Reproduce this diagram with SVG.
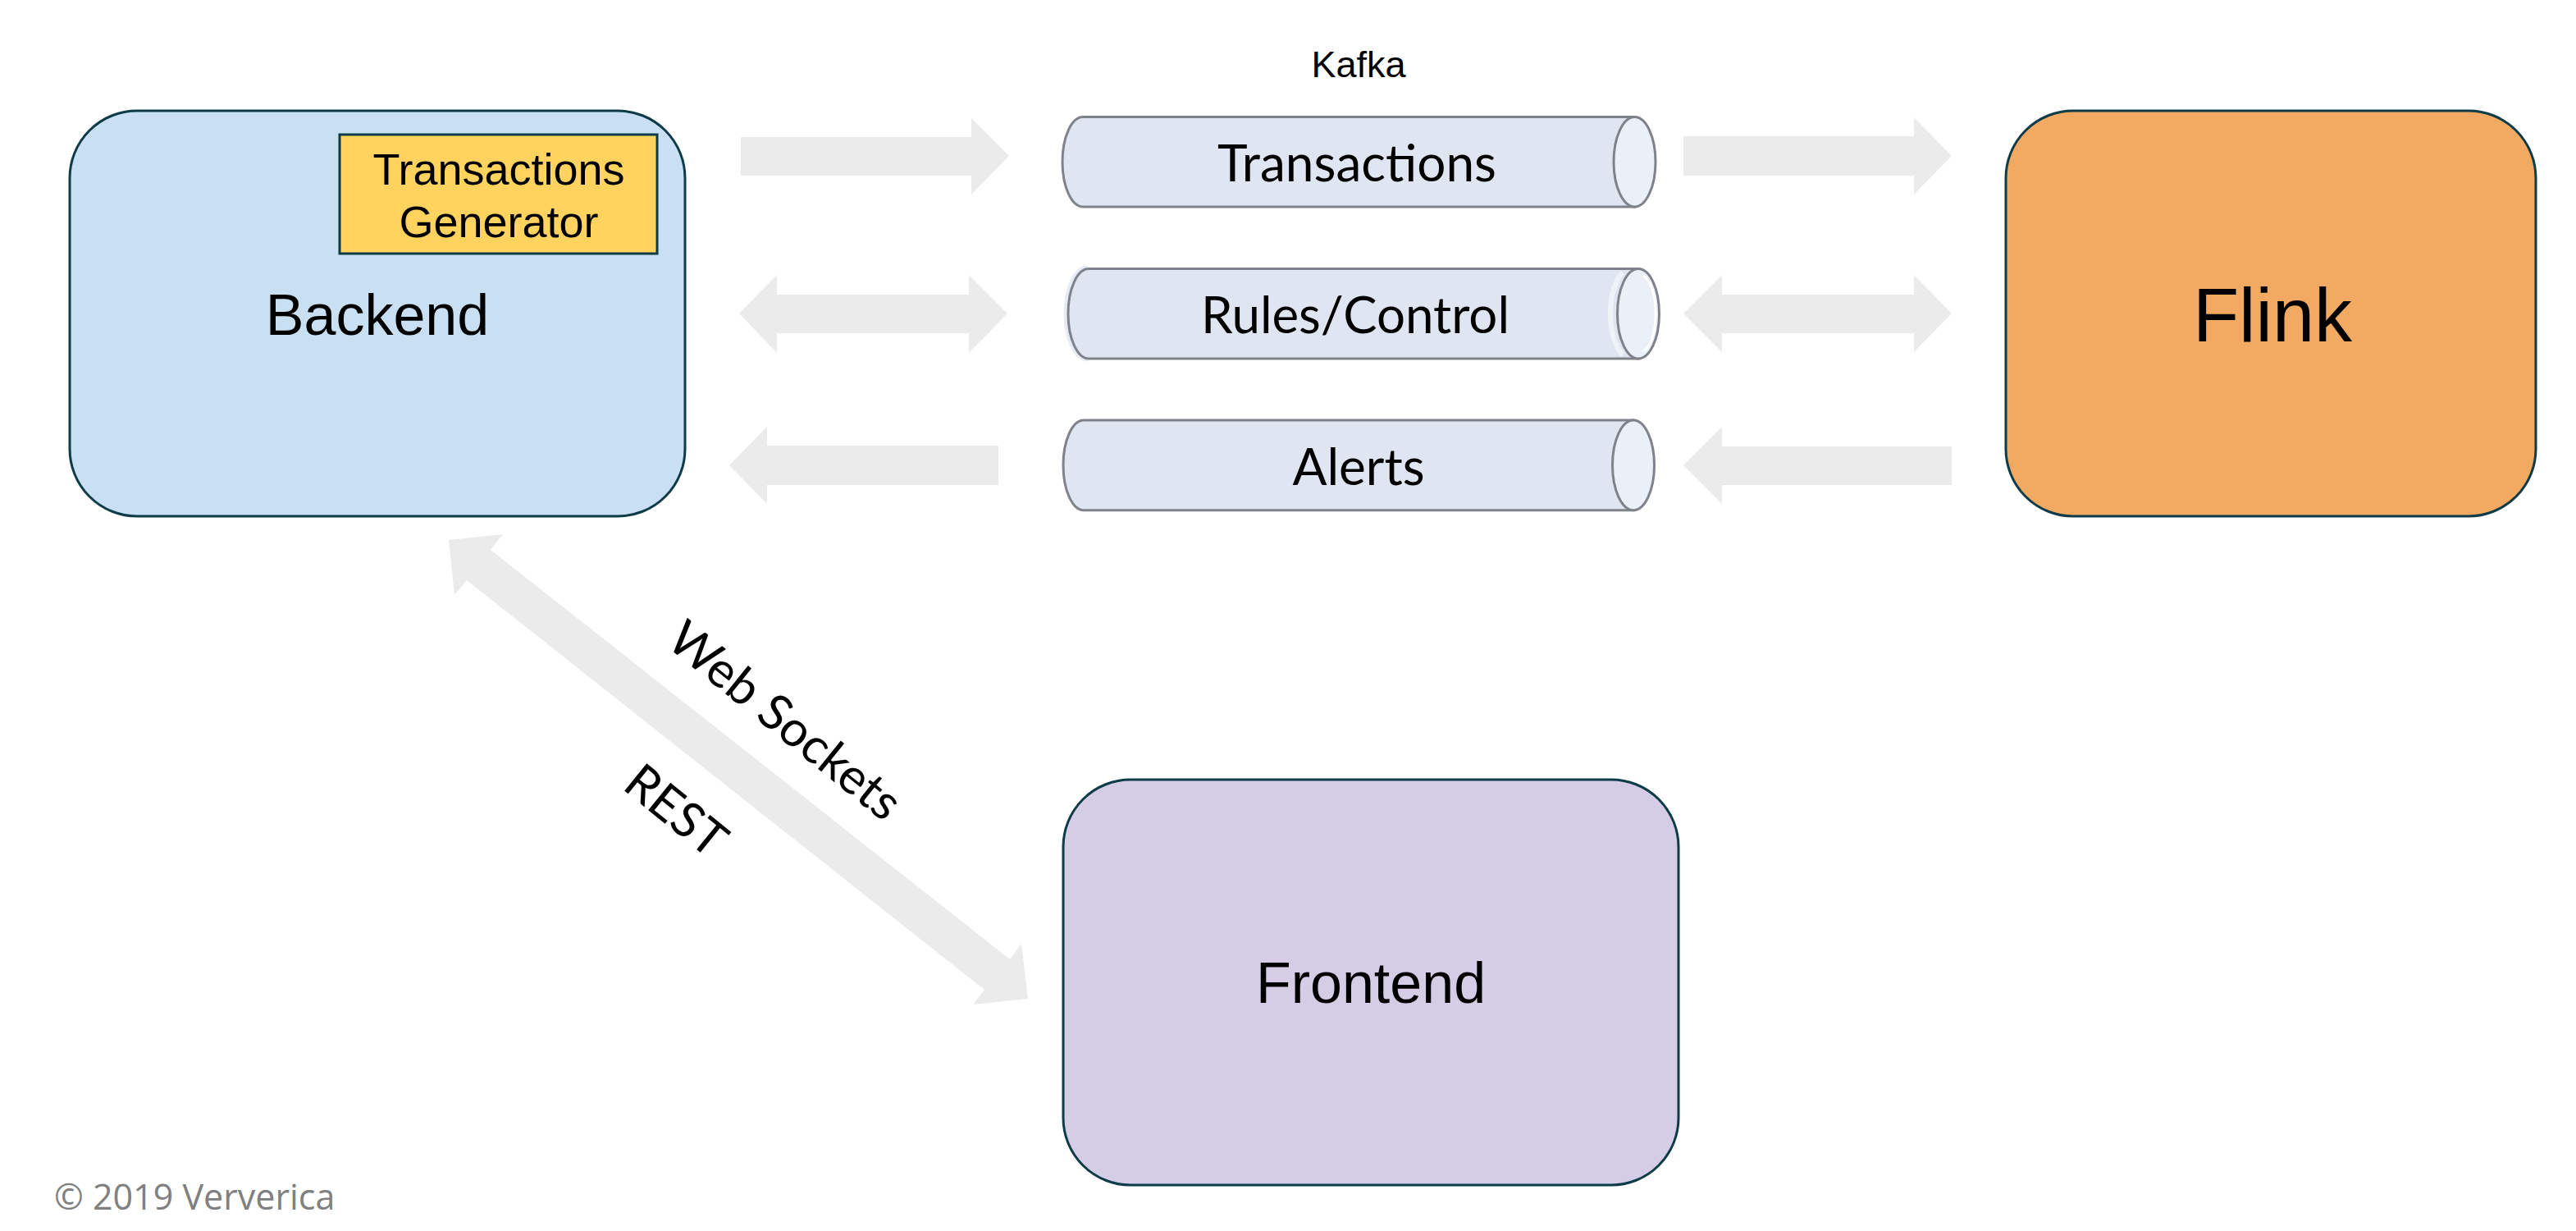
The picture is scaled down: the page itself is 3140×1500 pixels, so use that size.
<svg xmlns="http://www.w3.org/2000/svg" width="3140" height="1500" viewBox="0 0 3140 1500">
  <style>
    .box { stroke: #0d3c48; stroke-width: 3; }
    .lbl { font-family: "Liberation Sans", Arial, sans-serif; fill: #000; text-anchor: middle; }
    .topic { font-family: Lato, "Open Sans", sans-serif; fill: #000; text-anchor: middle; font-size: 62px; }
    .cylbody { fill: #dfe5f1; stroke: #7f828a; stroke-width: 3; }
    .cylend { fill: #eaeff8; stroke: #7f828a; stroke-width: 3; }
    .arrow { fill: #ebebeb; stroke: none; }
    .edgelbl { font-family: Lato, "Open Sans", sans-serif; fill: #000; text-anchor: middle; font-size: 60px; }
    .copy { font-family: "Open Sans", sans-serif; fill: #808080; font-size: 43px; }
  </style>
  <rect width="3140" height="1500" fill="#ffffff"/>

  <g id="connectors">
    <polygon class="arrow" points="903,167 1184,167 1184,144 1230,190 1184,237 1184,214 903,214"/>
    <polygon class="arrow" points="901,382 947,335 947,359 1181,359 1181,335 1228,382 1181,430 1181,406 947,406 947,430"/>
    <polygon class="arrow" points="889,567 935,520 935,543 1217,543 1217,591 935,591 935,614"/>
    <polygon class="arrow" points="2052,166 2333,166 2333,143 2379,190 2333,237 2333,214 2052,214"/>
    <polygon class="arrow" points="2052,382 2099,335 2099,359 2333,359 2333,335 2379,382 2333,429 2333,406 2099,406 2099,429"/>
    <polygon class="arrow" points="2052,567 2099,520 2099,544 2379,544 2379,591 2099,591 2099,614"/>
    <polygon class="arrow" points="547,658 613,651 598,670 1231,1169 1245,1150 1253,1217 1186,1224 1200,1206 569,707 554,725"/>
    <text class="edgelbl" x="944" y="894" transform="rotate(39 944 894)" textLength="345" lengthAdjust="spacingAndGlyphs">Web Sockets</text>
    <text class="edgelbl" x="811" y="1004" transform="rotate(39 811 1004)" textLength="139" lengthAdjust="spacingAndGlyphs">REST</text>
  </g>

  <g id="backend">
    <rect class="box" x="85" y="135" width="750" height="494" rx="82" ry="82" fill="#c9dff2"/>
    <text class="lbl" x="460" y="408" font-size="70">Backend</text>
  </g>

  <g id="generator">
    <rect class="box" x="414" y="164" width="387" height="145" fill="#ffd35e" stroke-width="2.5"/>
    <text class="lbl" x="608" y="225" font-size="54">Transactions</text>
    <text class="lbl" x="608" y="289" font-size="54">Generator</text>
  </g>

  <g id="kafka-label">
    <text class="lbl" x="1656" y="94" font-size="45">Kafka</text>
  </g>

  <g id="topic-transactions">
    <path class="cylbody" d="M1992.5,142.5 L1320,142.5 A25,54.75 0 0 0 1320,252 L1992.5,252 Z"/>
    <ellipse class="cylend" cx="1992.5" cy="197.25" rx="25.5" ry="54.75"/>
    <text class="topic" x="1654" y="220.5" textLength="340" lengthAdjust="spacingAndGlyphs">Transactions</text>
  </g>

  <g id="topic-rules">
    <path d="M1326,326 A27,56 0 0 0 1326,438" fill="none" stroke="#e6ebf5" stroke-width="5"/>
    <path class="cylbody" d="M1997,327.5 L1327,327.5 A25,54.75 0 0 0 1327,437 L1997,437 Z"/>
    <path d="M1978,332 A25.5,54.75 0 0 0 1978,432" fill="none" stroke="#eef2f9" stroke-width="6"/>
    <ellipse class="cylend" cx="1997" cy="382.25" rx="25.5" ry="54.75"/>
    <path d="M2003,336 A19,47 0 0 1 2003,428" fill="none" stroke="#ffffff" stroke-width="3"/>
    <text class="topic" x="1652" y="406" textLength="376" lengthAdjust="spacingAndGlyphs">Rules/Control</text>
  </g>

  <g id="topic-alerts">
    <path class="cylbody" d="M1991,512 L1321,512 A25,54.85 0 0 0 1321,621.7 L1991,621.7 Z"/>
    <ellipse class="cylend" cx="1991" cy="566.85" rx="25.5" ry="54.85"/>
    <text class="topic" x="1656" y="590.5" textLength="161" lengthAdjust="spacingAndGlyphs">Alerts</text>
  </g>

  <g id="flink">
    <rect class="box" x="2445" y="135" width="646" height="494" rx="82" ry="82" fill="#f2aa62"/>
    <text class="lbl" x="2770" y="416" font-size="92">Flink</text>
  </g>

  <g id="frontend">
    <rect class="box" x="1296" y="950" width="750" height="494" rx="82" ry="82" fill="#d5cce6"/>
    <text class="lbl" x="1671" y="1222" font-size="70">Frontend</text>
  </g>

  <g id="footer">
    <text class="copy" x="66" y="1474">© 2019 Ververica</text>
  </g>
</svg>
